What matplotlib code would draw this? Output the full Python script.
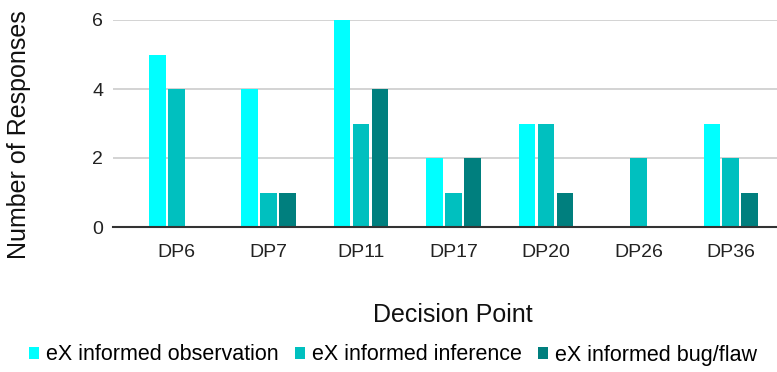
import numpy as np
import matplotlib
matplotlib.use("Agg")
from matplotlib import pyplot as plt

plt.rcParams['font.family'] = ['Liberation Sans', 'DejaVu Sans']

categories = ['DP6', 'DP7', 'DP11', 'DP17', 'DP20', 'DP26', 'DP36']
observation = [5, 4, 6, 2, 3, 0, 3]
inference = [4, 1, 3, 1, 3, 2, 2]
bug_flaw = [0, 1, 4, 2, 1, 0, 1]

series = [
    ('eX informed observation', observation, '#00ffff'),
    ('eX informed inference', inference, '#00c0bf'),
    ('eX informed bug/flaw', bug_flaw, '#007f7e'),
]

W, H = 777, 372
fig = plt.figure(figsize=(W / 100, H / 100), dpi=100)
# axes starts a little left of the first group so grid lines stick out like ticks
ax = fig.add_axes([113 / W, 1 - 227 / H, 1 - 113 / W, (227 - 20) / H])

x = np.arange(len(categories))
width = 0.18
step = 0.205
for i, (name, vals, color) in enumerate(series):
    ax.bar(x + (i - 1) * step, vals, width, color=color, label=name, zorder=3)

ax.set_xlim(-0.684, len(categories) - 0.5)
ax.set_ylim(0, 6)
ax.set_yticks([0, 2, 4, 6])
ax.set_xticks(x)
ax.set_xticklabels(categories)
ax.tick_params(axis='both', length=0, labelsize=14, colors='#222222')
ax.tick_params(axis='x', pad=12.5)
ax.tick_params(axis='y', pad=7)
ax.yaxis.grid(True, color='#cccccc', linewidth=1.2, zorder=0)
ax.set_axisbelow(True)
for s in ['top', 'right', 'left']:
    ax.spines[s].set_visible(False)
ax.spines['bottom'].set_color('#333333')
ax.spines['bottom'].set_linewidth(1.5)
ax.spines['bottom'].set_zorder(4)

fig.text(453 / W, 1 - 315 / H, 'Decision Point', fontsize=18,
         ha='center', va='center', color='#111111')
fig.text(19 / W, 1 - 135 / H, 'Number of Responses', fontsize=18,
         rotation=90, ha='center', va='center', color='#111111')

fig.legend(loc='center', bbox_to_anchor=(0.506, 1 - 355 / H), ncol=3, frameon=False,
           fontsize=15.5, handlelength=0.47, handleheight=0.47, handletextpad=0.33,
           columnspacing=0.75, borderaxespad=0)

fig.savefig('out.png', dpi=100)
